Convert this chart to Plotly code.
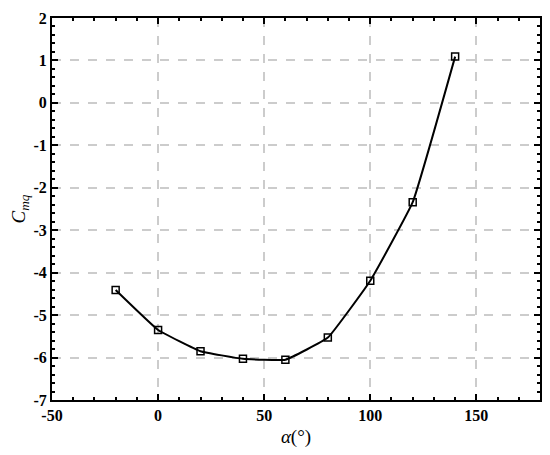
import plotly.graph_objects as go

alpha = [-20, 0, 20, 40, 60, 80, 100, 120, 140]
cmq = [-4.41, -5.35, -5.85, -6.03, -6.05, -5.53, -4.19, -2.34, 1.09]

x_ticks = [-50, 0, 50, 100, 150]
y_ticks = [-7, -6, -5, -4, -3, -2, -1, 0, 1, 2]

fig = go.Figure()
fig.add_trace(go.Scatter(
    x=alpha, y=cmq, mode="lines+markers",
    line=dict(color="black", width=2, shape="spline", smoothing=0.3),
    marker=dict(symbol="square-open", size=7, color="black", line=dict(width=1.5)),
    showlegend=False,
))

tickfont = dict(family="Liberation Serif", size=16, color="black", weight="bold")
axis_common = dict(
    showline=True, linecolor="black", linewidth=2, mirror="ticks",
    ticks="inside", ticklen=6, tickwidth=1.5, tickcolor="black",
    showgrid=True, gridcolor="#cccccc", gridwidth=1.5, griddash="dash",
    zeroline=False, tickfont=tickfont, automargin=False,
)

fig.update_layout(
    width=542, height=447,
    margin=dict(l=44, r=10, t=10, b=55),
    plot_bgcolor="white", paper_bgcolor="white",
    xaxis=dict(
        range=[-50, 180], tickvals=x_ticks, ticktext=[str(v) for v in x_ticks],
        minor=dict(ticks="inside", dtick=10, tick0=0, ticklen=3, tickcolor="black", showgrid=False),
        title=dict(text="<i>α</i>(°)", font=dict(family="Liberation Serif", size=19, color="black"), standoff=6),
        **axis_common,
    ),
    yaxis=dict(
        range=[-7, 2], tickvals=y_ticks, ticktext=[str(v) for v in y_ticks],
        minor=dict(ticks="inside", dtick=0.2, tick0=0, ticklen=3, tickcolor="black", showgrid=False),
        title=dict(text="<i>C<sub>mq</sub></i>", font=dict(family="Liberation Serif", size=19, color="black"), standoff=12),
        **axis_common,
    ),
)

fig.write_html("out.html")
